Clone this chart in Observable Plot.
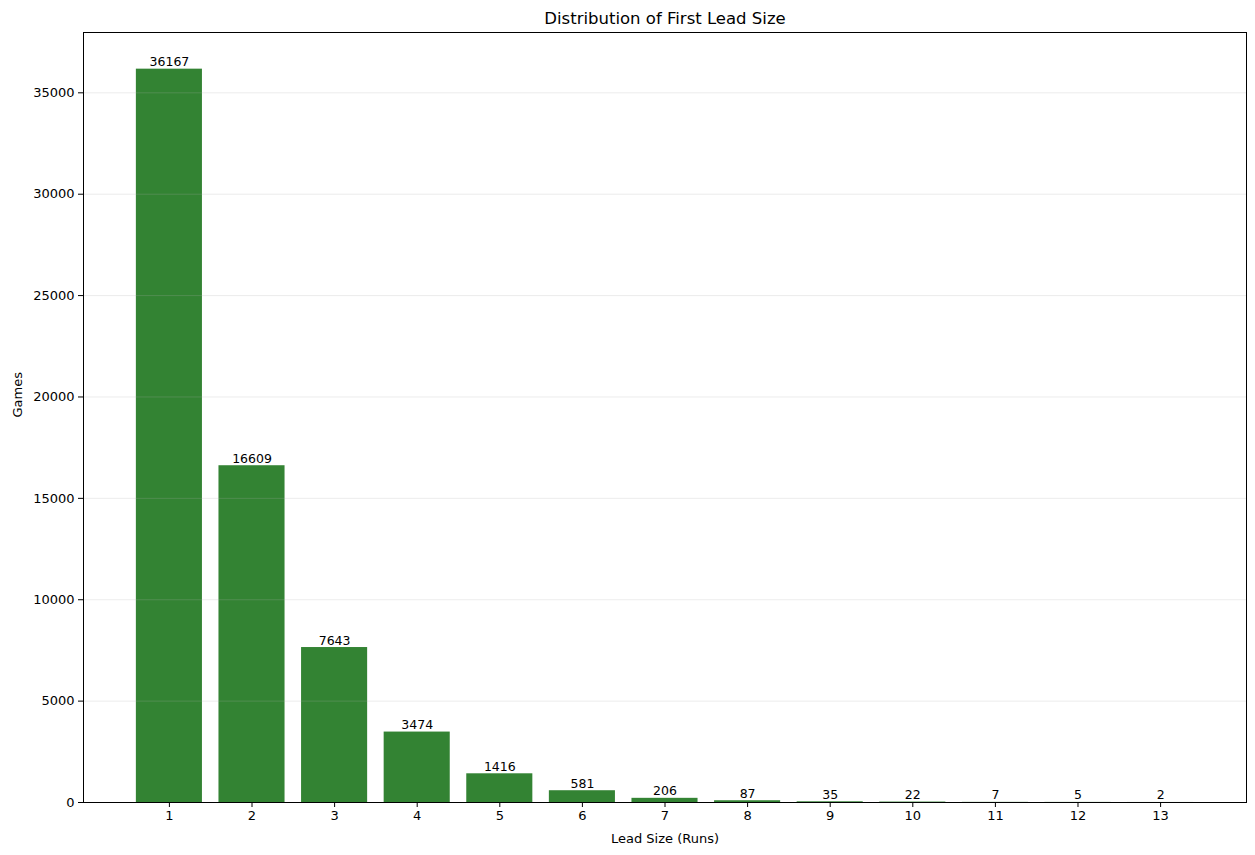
<!DOCTYPE html>
<html>
<head>
<meta charset="utf-8">
<script src="https://cdn.jsdelivr.net/npm/d3@7"></script>
<script src="https://cdn.jsdelivr.net/npm/@observablehq/plot@0.6"></script>
<style>
  html, body { margin: 0; padding: 0; background: white; }
</style>
</head>
<body>
<div id="chart"></div>
<script>
const leadSizes = [1, 2, 3, 4, 5, 6, 7, 8, 9, 10, 11, 12, 13];
const games = [36167, 16609, 7643, 3474, 1416, 581, 206, 87, 35, 22, 7, 5, 2];
const yTicks = [0, 5000, 10000, 15000, 20000, 25000, 30000, 35000];
const titleText = "Distribution of First Lead Size";
const xLabel = "Lead Size (Runs)";
const yLabel = "Games";

const data = leadSizes.map((x, i) => ({ x, games: games[i] }));

const chart = Plot.plot({
  width: 1255,
  height: 855,
  marginLeft: 83,
  marginRight: 9,
  marginTop: 32,
  marginBottom: 53,
  style: { fontFamily: "DejaVu Sans", fontSize: "13px", background: "white", color: "black" },
  x: { type: "linear", domain: [-0.04, 14.04] },
  y: { domain: [0, 37975] },
  marks: [
    Plot.rectY(data, {
      x1: d => d.x - 0.4,
      x2: d => d.x + 0.4,
      y1: 0,
      y2: "games",
      fill: "darkgreen",
      fillOpacity: 0.8
    }),
    Plot.gridY(yTicks, { stroke: "#b0b0b0", strokeOpacity: 0.3, strokeWidth: 0.8 }),
    Plot.text(data, {
      x: "x",
      y: "games",
      text: d => String(d.games),
      dy: -7,
      fontSize: 12.5,
      fill: "black"
    }),
    Plot.frame({ stroke: "black", strokeWidth: 1 }),
    Plot.axisX(leadSizes, {
      tickFormat: d => String(d),
      tickSize: 5,
      tickPadding: 3,
      fontSize: 13,
      label: null
    }),
    Plot.axisY(yTicks, {
      tickFormat: d => String(d),
      tickSize: 5,
      tickPadding: 4,
      fontSize: 13,
      label: null
    }),
    Plot.text([titleText], {
      frameAnchor: "top",
      lineAnchor: "middle",
      dy: -14,
      fontSize: 16.5,
      fill: "black"
    }),
    Plot.text([xLabel], {
      frameAnchor: "bottom",
      lineAnchor: "middle",
      dy: 36,
      fontSize: 13,
      fill: "black"
    }),
    Plot.text([yLabel], {
      frameAnchor: "left",
      lineAnchor: "middle",
      rotate: -90,
      dx: -66,
      fontSize: 13,
      fill: "black"
    })
  ]
});

document.getElementById("chart").appendChild(chart);
</script>
</body>
</html>
